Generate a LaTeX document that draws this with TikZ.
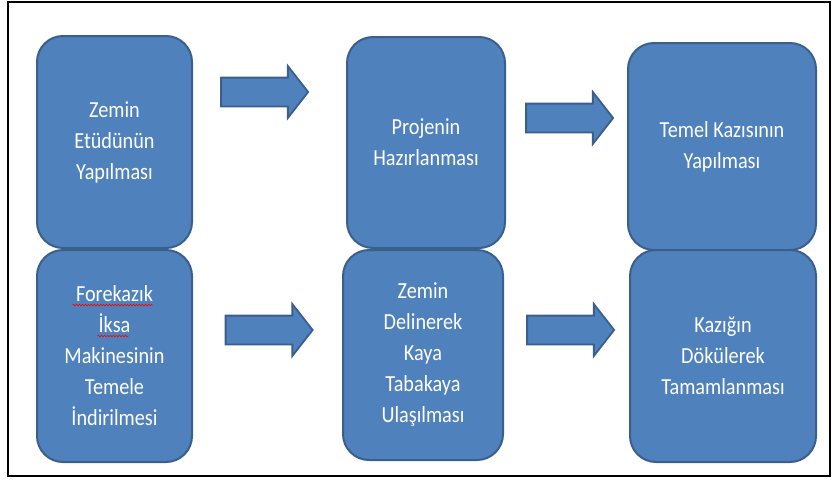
\documentclass[tikz,border=0pt]{standalone}
\usepackage{fontspec}
\setmainfont{Carlito}[FakeStretch=0.88]
\usetikzlibrary{positioning}
\usetikzlibrary{shapes,arrows,decorations.pathmorphing}
\definecolor{boxblue}{HTML}{4F81BD}
\definecolor{boxedge}{HTML}{3A5F8C}
\tikzstyle{stage} = [rectangle, draw=boxedge, line width=2pt, fill=boxblue,
    rounded corners=26pt, text=white, align=center, inner sep=0pt,
    font=\fontsize{23}{31}\selectfont]
\tikzstyle{blockarrow} = [single arrow, draw=boxedge, line width=1.8pt, fill=boxblue,
    minimum height=87pt, minimum width=51pt, single arrow head extend=11.5pt,
    single arrow tip angle=104, inner xsep=0pt, inner ysep=13.5pt]
\tikzstyle{spellwave} = [red, line width=0.6pt, decorate,
    decoration={snake, amplitude=0.8pt, segment length=3pt}]

\begin{document}
\begin{tikzpicture}[x=1pt, y=-1pt]
\useasboundingbox (0,0) rectangle (832,479);
\draw[line width=1.3pt] (8,2) rectangle (830,476);

\node (etud) [stage, minimum width=155pt, minimum height=212pt] at (114.5,142) {Zemin\\Etüdünün\\Yapılması};
\node (proje) [stage, minimum width=158pt, minimum height=211pt] at (426,142.5) {Projenin\\Hazırlanması};
\node (kazi) [stage, minimum width=188pt, minimum height=207pt] at (722,146.5) {Temel Kazısının\\Yapılması};
\node (iksa) [stage, minimum width=155pt, minimum height=212pt] at (114.5,356) {Forekazık\\İksa\\Makinesinin\\Temele\\İndirilmesi};
\node (delme) [stage, minimum width=160pt, minimum height=210pt] at (423,355) {Zemin\\Delinerek\\Kaya\\Tabakaya\\Ulaşılması};
\node (beton) [stage, minimum width=186pt, minimum height=212pt] at (723,356) {Kazığın\\Dökülerek\\Tamamlanması};

% spell check marks
\draw[spellwave] ([xshift=-42pt,yshift=51pt]iksa.center) -- ([xshift=38pt,yshift=51pt]iksa.center);
\draw[spellwave] ([xshift=-17pt,yshift=20pt]iksa.center) -- ([xshift=14pt,yshift=20pt]iksa.center);

\node (ok1) [blockarrow] at (259,92) {};
\node (ok2) [blockarrow] at (564,118) {};
\node (ok3) [blockarrow] at (263.5,330) {};
\node (ok4) [blockarrow] at (565,330) {};

\end{tikzpicture}
\end{document}
